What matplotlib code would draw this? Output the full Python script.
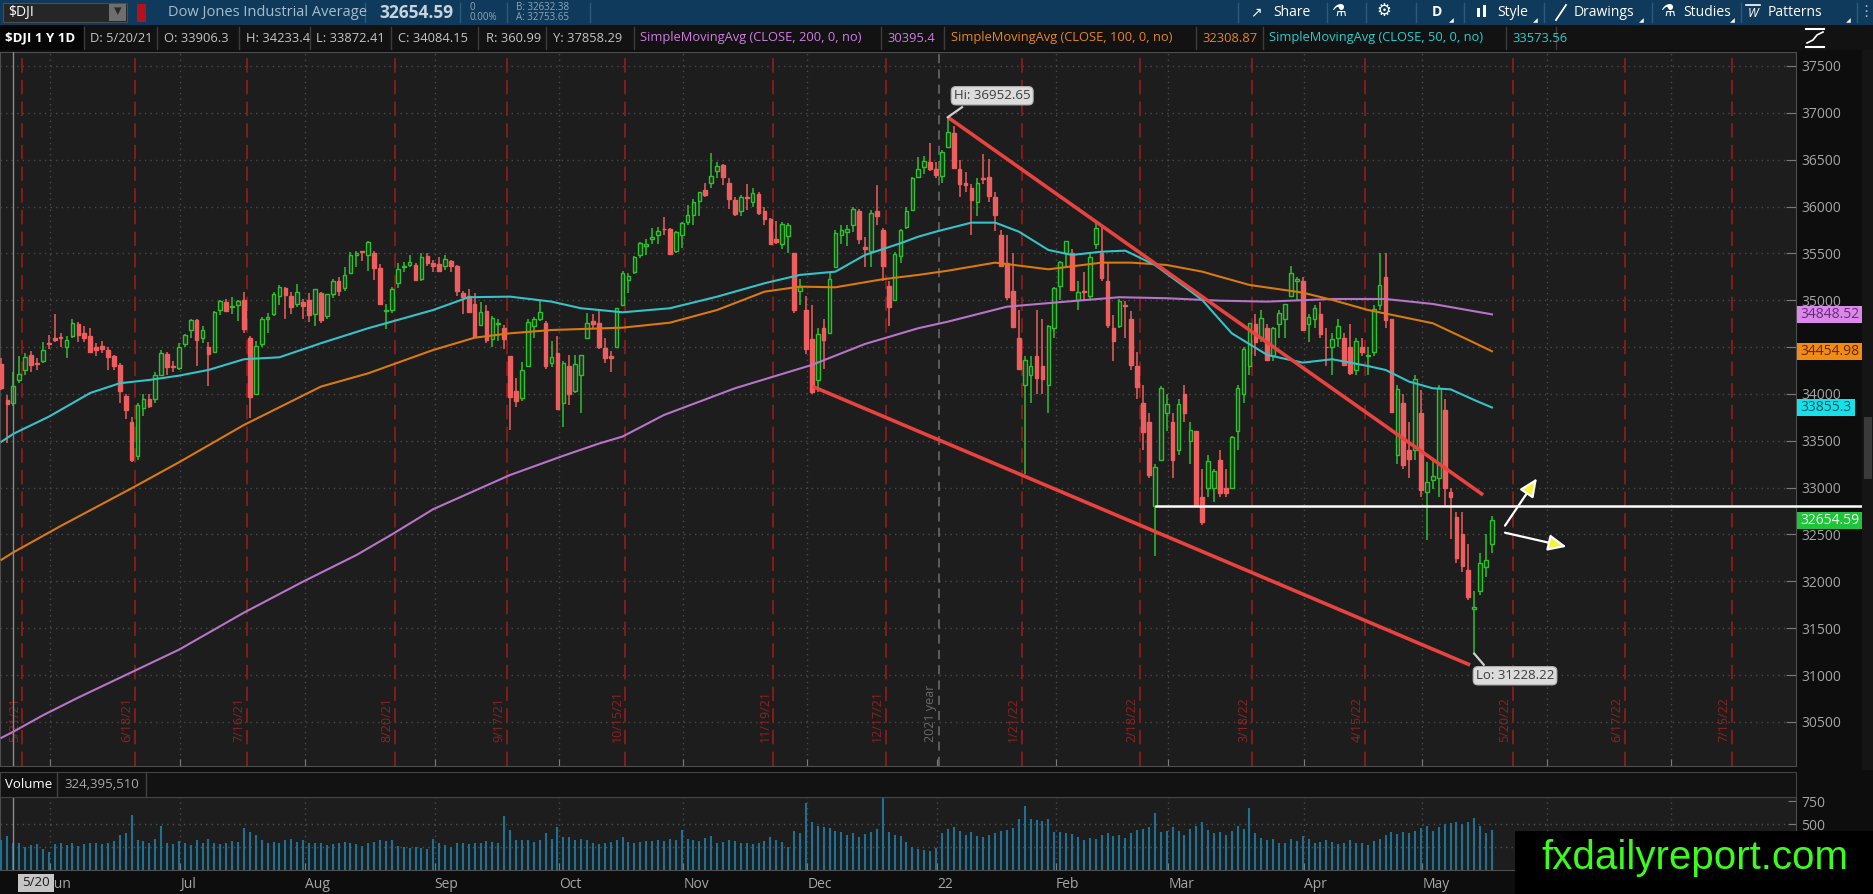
import numpy as np
import matplotlib
matplotlib.use("Agg")
import matplotlib.pyplot as plt
from matplotlib.patches import Rectangle
from matplotlib.lines import Line2D

plt.rcParams['font.family'] = ['Open Sans', 'DejaVu Sans']

W, H = 1874, 894

# daily $DJI candles, trading day index 0 = 5/18/21 ... 252 = 5/17/22
opens = [34320, 33940, 33906, 34150, 34250, 34420, 34330, 34350, 34540,
         34600, 34610, 34500, 34620, 34750, 34650, 34620, 34500, 34510, 34470, 34400, 34310, 33980, 33700, 33340, 33850, 33950, 33950, 34200, 34430, 34300, 34280,
         34530, 34680, 34790, 34600, 34500, 34450, 34900, 34980, 34930, 34950, 35000, 34600, 34000, 34530, 34800, 34850, 35040, 35130, 35050, 34960, 34980,
         35000, 34850, 35080, 34830, 35070, 35200, 35130, 35290, 35480, 35520, 35480, 35500, 35340, 34880, 34900, 35180, 35350, 35380, 35380, 35230, 35470, 35400,
         35390, 35360, 35420, 35360, 35080, 35050, 34960, 34740, 34890, 34590, 34750, 34700, 34400, 34030, 33960, 34300, 34720, 34800, 34760, 34330, 34440,
         33900, 34300, 34030, 34200, 34600, 34780, 34760, 34490, 34400, 34500, 34950, 35220, 35300, 35480, 35580, 35650, 35700, 35760, 35760, 35520, 35700,
         35830, 35910, 36060, 36180, 36250, 36380, 36440, 36250, 36070, 35950, 36100, 36050, 36130, 35950, 35870, 35650, 35600, 35680, 35500, 35100, 34900,
         34590, 34150, 34700, 34650, 35350, 35700, 35730, 35800, 35950, 35570, 35520, 35950, 35750, 35150, 35000, 35470, 35780, 35960, 36320, 36420, 36480, 36400,
         36330, 36630, 36780, 36400, 36250, 36200, 36050, 36300, 36310, 36100, 35700, 35400, 35100, 34600, 34100, 34200, 34400, 34300, 34100, 34700,
         35150, 35500, 35500, 35000, 35100, 35050, 35600, 35500, 35200, 34700, 34720, 34950, 34800, 34300, 33900, 33700, 32800, 33300, 33800,
         33700, 33400, 34000, 33500, 33600, 32900, 33000, 33000, 33300, 33000, 33000, 33600, 34000, 34300, 34750, 34600, 34700, 34400, 34750, 34800, 35050, 35200, 35200,
         34750, 34800, 34850, 34500, 34500, 34600, 34600, 34500, 34250, 34500, 34400, 34450, 34950, 35250, 34800, 33350, 33900, 33400, 33400, 33800,
         32950, 33080, 33100, 33830, 32950, 32690, 32510, 32120, 31700, 31900, 32150, 32400]
highs = [34380, 33990, 34233, 34400, 34440, 34460, 34380, 34550, 34630,
         34850, 34650, 34620, 34800, 34770, 34720, 34700, 34540, 34560, 34500, 34420, 34330, 34000, 33750, 33900, 34000, 34000, 34230, 34470, 34450, 34350, 34540,
         34640, 34800, 34800, 34720, 34550, 34880, 35000, 35010, 35030, 35000, 35090, 34620, 34570, 34820, 34860, 35090, 35160, 35140, 35090, 35170, 35010,
         35080, 35120, 35090, 35070, 35230, 35250, 35350, 35510, 35520, 35530, 35630, 35520, 35390, 34960, 35140, 35400, 35410, 35480, 35400, 35500, 35500, 35430,
         35460, 35480, 35430, 35380, 35100, 35120, 35080, 34980, 34950, 34830, 34800, 34740, 34400, 34170, 34340, 34800, 34820, 35000, 34780, 34570, 34620,
         34350, 34420, 34420, 34420, 34860, 34850, 34880, 34600, 34460, 34920, 35310, 35290, 35470, 35620, 35650, 35770, 35780, 35890, 35770, 35740, 35830,
         36020, 36080, 36160, 36250, 36570, 36480, 36450, 36300, 36100, 36120, 36240, 36200, 36150, 35990, 35880, 35850, 35830, 35820, 35500, 35230, 35050,
         34950, 34700, 34800, 35300, 35750, 35800, 35800, 35990, 35970, 35670, 35960, 36230, 35770, 35200, 35510, 35760, 35990, 36310, 36530, 36540, 36680, 36480,
         36600, 36953, 36860, 36500, 36370, 36240, 36300, 36560, 36510, 36150, 35750, 35700, 35500, 34900, 34400, 34400, 34900, 34800, 34740, 35140,
         35420, 35630, 35550, 35200, 35300, 35500, 35820, 35800, 35400, 34840, 35010, 34990, 34880, 34450, 34100, 33800, 33250, 34080, 34000,
         33800, 33950, 34100, 33700, 33600, 33200, 33350, 33200, 33400, 33200, 33550, 34100, 34500, 34760, 34850, 34900, 34750, 34710, 34900, 34960, 35370, 35250, 35250,
         34850, 34950, 34980, 34700, 34650, 34800, 34650, 34750, 34600, 34600, 34500, 34950, 35500, 35500, 34800, 34100, 34000, 33700, 34200, 34040,
         33270, 33290, 34100, 33950, 33000, 32740, 32740, 32400, 31900, 32300, 32500, 32700]
lows = [34040, 33473, 33872, 34120, 34200, 34230, 34250, 34330, 34480,
        34550, 34500, 34380, 34600, 34550, 34550, 34440, 34400, 34440, 34260, 34250, 33900, 33730, 33270, 33300, 33760, 33850, 33900, 34200, 34200, 34230, 34260,
        34500, 34600, 34300, 34540, 34080, 34450, 34840, 34870, 34850, 34780, 34650, 33740, 33990, 34500, 34650, 34830, 34950, 34800, 34850, 34930, 34800,
        34770, 34730, 34760, 34800, 35020, 35050, 35100, 35280, 35350, 35420, 35310, 35220, 34950, 34690, 34860, 35130, 35300, 35350, 35200, 35200, 35370, 35300,
        35300, 35320, 35300, 35050, 34850, 34870, 34600, 34720, 34540, 34500, 34560, 34480, 33610, 33860, 33920, 34300, 34600, 34780, 34270, 34290, 33840,
        33650, 33880, 34010, 33800, 34600, 34700, 34480, 34330, 34230, 34500, 34950, 35080, 35280, 35450, 35480, 35600, 35600, 35700, 35480, 35500, 35560,
        35800, 35800, 35900, 36100, 36200, 36300, 36230, 35970, 35900, 35900, 35960, 36000, 35910, 35800, 35600, 35600, 35550, 35500, 34860, 34950, 34430,
        34000, 34020, 34270, 34650, 35350, 35600, 35580, 35730, 35600, 35350, 35350, 35800, 35200, 34720, 34990, 35400, 35760, 35950, 36300, 36350, 36380, 36300,
        36250, 36630, 36400, 36100, 36160, 35700, 35900, 36240, 36050, 35740, 35360, 35000, 34700, 34260, 33150, 33900, 34000, 34000, 33800, 34600,
        35000, 35350, 35100, 34900, 35000, 35000, 35550, 35200, 34700, 34350, 34700, 34600, 34250, 33950, 33400, 33100, 32270, 33300, 33600,
        33100, 33350, 33700, 33250, 32800, 32600, 32900, 32850, 32900, 32900, 33000, 33400, 33900, 34200, 34400, 34550, 34350, 34350, 34600, 34600, 35050, 35000, 34670,
        34550, 34700, 34600, 34300, 34200, 34500, 34300, 34200, 34200, 34400, 34200, 34400, 34900, 34700, 33800, 33250, 33200, 33100, 33300, 32900,
        32440, 32990, 32900, 32800, 32450, 32200, 32100, 31800, 31228, 31850, 32050, 32300]
closes = [34061, 33896, 34084, 34208, 34394, 34312, 34323, 34465, 34529,
          34575, 34600, 34577, 34756, 34630, 34600, 34447, 34466, 34480, 34394, 34299, 34034, 33823, 33290, 33877, 33946, 33874, 34197, 34434, 34283, 34292, 34503,
          34634, 34786, 34577, 34682, 34422, 34870, 34996, 34889, 34933, 34987, 34688, 33962, 34512, 34798, 34823, 35062, 35144, 35059, 34931, 35085, 34935,
          34838, 35116, 34793, 35064, 35209, 35102, 35265, 35485, 35500, 35515, 35625, 35343, 34961, 34894, 35120, 35336, 35366, 35406, 35213, 35456, 35400, 35361,
          35313, 35444, 35369, 35100, 35031, 34879, 34608, 34870, 34578, 34814, 34751, 34585, 33970, 33920, 34258, 34765, 34798, 34869, 34300, 34391, 33844,
          34326, 34003, 34315, 34417, 34755, 34746, 34496, 34378, 34378, 34913, 35295, 35259, 35457, 35609, 35603, 35677, 35741, 35757, 35491, 35730, 35820,
          35914, 36053, 36158, 36124, 36328, 36432, 36320, 36080, 35921, 36100, 36087, 36142, 35931, 35871, 35602, 35619, 35814, 35804, 34899, 35136, 34484,
          34022, 34640, 34580, 35227, 35719, 35754, 35755, 35971, 35651, 35544, 35927, 35898, 35365, 34932, 35493, 35754, 35951, 36302, 36398, 36489, 36398, 36338,
          36585, 36800, 36407, 36236, 36232, 36069, 36252, 36290, 36114, 35912, 35368, 35029, 34715, 34265, 34365, 34298, 34168, 34161, 34725, 35132,
          35405, 35629, 35111, 35090, 35091, 35463, 35768, 35242, 34738, 34566, 34989, 34934, 34312, 34079, 33597, 33132, 33224, 34059, 33893,
          33295, 33891, 33795, 33615, 32817, 32633, 33286, 33174, 32944, 32945, 33544, 34063, 34481, 34755, 34553, 34807, 34359, 34708, 34861, 34956, 35294, 35229, 34678,
          34818, 34922, 34641, 34497, 34584, 34721, 34308, 34220, 34565, 34451, 34412, 34911, 35161, 34793, 33811, 34049, 33240, 33302, 34161, 32977,
          33062, 33129, 34061, 32998, 32899, 32246, 32161, 31834, 31730, 32197, 32223, 32655]
# volume, millions
volumes = [330, 370, 290, 300, 250, 270, 280, 230, 200,
           280, 300, 270, 290, 260, 280, 300, 290, 280, 300, 320, 380, 400, 600, 330, 320, 300, 340, 480, 300, 280, 320,
           290, 270, 330, 300, 340, 290, 280, 300, 320, 310, 460, 420, 380, 330, 300, 310, 300, 330, 340, 310, 330,
           300, 290, 300, 270, 280, 290, 310, 300, 280, 260, 290, 310, 330, 320, 330, 260, 250, 240, 250, 240, 230, 340,
           290, 270, 250, 290, 300, 280, 290, 300, 320, 310, 300, 590, 440, 330, 330, 330, 310, 330, 400, 340, 470,
           360, 360, 330, 340, 330, 290, 280, 300, 310, 330, 360, 310, 300, 310, 320, 320, 330, 320, 340, 330, 440,
           340, 330, 320, 350, 370, 300, 310, 330, 320, 300, 290, 280, 300, 320, 360, 330, 310, 250, 430, 400, 730,
           520, 480, 470, 460, 430, 410, 380, 400, 360, 390, 420, 450, 800, 420, 380, 370, 310, 250, 230, 220, 210, 240,
           400, 450, 470, 430, 380, 420, 370, 360, 380, 400, 430, 440, 460, 560, 700, 560, 550, 540, 560, 420,
           410, 400, 390, 360, 330, 350, 340, 380, 400, 370, 380, 350, 400, 440, 450, 470, 625, 420, 430,
           470, 430, 380, 450, 480, 520, 440, 400, 420, 380, 430, 480, 450, 675, 400, 350, 330, 340, 300, 300, 340, 320, 370,
           340, 300, 310, 330, 310, 280, 290, 330, 290, 300, 270, 320, 340, 380, 420, 390, 420, 400, 430, 460,
           480, 430, 470, 500, 510, 520, 500, 530, 573, 480, 400, 440]

# moving averages (bar index, value)
sma200_idx = [0, 2, 7, 13, 22, 30, 41, 51, 60, 66, 73, 86, 95, 101, 105, 112, 124, 137, 146, 155, 160,
              170, 180, 189, 197, 206, 214, 225, 234, 242, 252]
sma200_val = [30330, 30395, 30570, 30760, 31030, 31270, 31666, 31997, 32280, 32500, 32770, 33135, 33340, 33470,
              33545, 33775, 34060, 34309, 34533, 34701, 34771, 34931, 34985, 35032, 35021, 34995, 34985, 35013,
              35013, 34960, 34849]
sma100_idx = [0, 2, 10, 22, 30, 41, 54, 62, 73, 80, 86, 93, 105, 113, 121, 129, 135, 141, 149, 155, 160, 168,
              177, 186, 191, 197, 203, 206, 211, 220, 225, 231, 236, 242, 248, 252]
sma100_val = [32230, 32309, 32590, 32993, 33270, 33669, 34078, 34220, 34469, 34600, 34647, 34682, 34707, 34760,
              34896, 35091, 35145, 35138, 35224, 35270, 35315, 35401, 35330, 35401, 35401, 35376, 35305, 35251,
              35163, 35081, 35003, 34896, 34832, 34754, 34576, 34455]
sma50_idx = [0, 2, 8, 15, 20, 25, 30, 35, 41, 47, 54, 62, 73, 79, 86, 93, 98, 101, 105, 113, 121, 129, 135, 141,
             146, 152, 155, 158, 164, 168, 172, 177, 181, 186, 190, 195, 200, 203, 206, 208, 214, 220, 225, 231,
             234, 238, 242, 245, 249, 252]
sma50_val = [33490, 33574, 33757, 34010, 34114, 34149, 34195, 34256, 34370, 34391, 34541, 34701, 34896, 35032,
             35038, 34985, 34914, 34896, 34871, 34914, 35038, 35181, 35270, 35305, 35483, 35608, 35678, 35732,
             35828, 35828, 35732, 35536, 35483, 35518, 35529, 35376, 35145, 35003, 34789, 34647, 34416, 34334,
             34370, 34298, 34256, 34131, 34060, 34049, 33935, 33855]

expiry_idx = [3, 22, 41, 66, 85, 105, 130, 149, 172, 192, 211, 230, 255, 274, 292]
expiry_labels = ['5/21/21', '6/18/21', '7/16/21', '8/20/21', '9/17/21', '10/15/21', '11/19/21', '12/17/21',
                 '1/21/22', '2/18/22', '3/18/22', '4/15/22', '5/20/22', '6/17/22', '7/15/22']
month_idx = [9, 31, 52, 74, 95, 116, 137, 159, 179, 198, 221, 241, 262, 283]
month_labels = ['Jun', 'Jul', 'Aug', 'Sep', 'Oct', 'Nov', 'Dec', '22', 'Feb', 'Mar', 'Apr', 'May', '', '']
price_ticks = list(range(30500, 37501, 500))
hidden_price_labels = (34500,)  # sits fully under the SMA tag on the scale

fig = plt.figure(figsize=(W / 100, H / 100), dpi=100, facecolor='#0d0d0d')


def fx(x):
    return x / W


def fy(y):
    return 1 - y / H


def box(x, y, w, h, fc, ec='none', lw=0, z=1):
    fig.add_artist(Rectangle((fx(x), fy(y + h)), w / W, h / H, transform=fig.transFigure,
                             fc=fc, ec=ec, lw=lw, zorder=z))


def vline(x, y0, y1, color, lw=1, z=2):
    fig.add_artist(Line2D([fx(x), fx(x)], [fy(y0), fy(y1)], transform=fig.transFigure,
                          color=color, lw=lw, zorder=z))


def txt(x, y, s, z=3, **kw):
    kw.setdefault('va', 'center')
    fig.text(fx(x), fy(y), s, zorder=z, **kw)


XL = (-0.25, 303.4)
grid_x = [m - 0.75 for m in month_idx]
dot = (0, (1, 3))

# ---------------- main price panel ----------------
ax = fig.add_axes([0, fy(766), 1796 / W, (766 - 52) / H])
ax.set_facecolor('#1d1d1d')
ax.set_xlim(*XL)
ax.set_ylim(30029, 37649)
for s in ax.spines.values():
    s.set_color('#4e4e4e')

for p in price_ticks:
    ax.axhline(p, color='#4a4a4a', lw=1, ls=dot, zorder=1)
for g, m in zip(grid_x, month_idx):
    if m != 159:
        ax.axvline(g, color='#4a4a4a', lw=1, ls=dot, zorder=1)

# option expiration lines
for e, lab in zip(expiry_idx, expiry_labels):
    ax.axvline(e + 0.5, color='#8c1c1c', lw=1.3, ls=(0, (8, 4)), zorder=2)
    ax.text(e - 0.85, 30286, lab, rotation=90, color='#8e2222', fontsize=9, ha='center', va='bottom', zorder=2)
ax.axvline(158.5, color='#6e6e6e', lw=1.1, ls=(0, (6, 4)), zorder=2)
ax.text(157.0, 30286, '2021 year', rotation=90, color='#6a6a6a', fontsize=9, ha='center', va='bottom', zorder=2)

# candles
idx = np.arange(len(closes))
o = np.array(opens)
hi = np.array(highs)
lo = np.array(lows)
c = np.array(closes)
up = c >= o
red, green = '#ee5e5e', '#2ec02e'
edge = np.where(up, green, red)
face = np.where(up, '#1e3a1e', red)
ax.vlines(idx, lo, hi, colors=edge, lw=1.1, zorder=3)
ax.bar(idx, np.maximum(np.abs(c - o), 8), bottom=np.minimum(o, c), width=0.62,
       color=face, edgecolor=edge, linewidth=1.0, zorder=4)

# moving averages
ax.plot(sma200_idx, sma200_val, color='#b774c8', lw=1.5, zorder=5)
ax.plot(sma100_idx, sma100_val, color='#d9790f', lw=1.5, zorder=5)
ax.plot(sma50_idx, sma50_val, color='#35c2c8', lw=1.5, zorder=5)

# crosshair on 5/20/21
ax.axvline(2, color='#8a8a8a', lw=1, zorder=6)

# drawings
ax.plot([160, 250.5], [36953, 32922], color='#e8433f', lw=2.6, zorder=6, solid_capstyle='butt')
ax.plot([137.2, 248.3], [34078, 31107], color='#e8433f', lw=2.6, zorder=6, solid_capstyle='butt')
ax.plot([195.2, 330], [32804, 32804], color='white', lw=1.8, zorder=9, clip_on=False)
arrow = dict(arrowstyle='-|>,head_length=1.0,head_width=0.45', mutation_scale=11,
             fc='#f4f436', ec='white', lw=1.6, shrinkA=0, shrinkB=0)
ax.annotate('', xy=(259.6, 33099), xytext=(254.2, 32594), arrowprops=arrow, zorder=9)
ax.annotate('', xy=(264.6, 32369), xytext=(254.2, 32519), arrowprops=arrow, zorder=9)

# hi / lo bubbles
bub = dict(boxstyle='round,pad=0.2,rounding_size=0.35', fc='#dcdcdc', ec='#b4b4b4', lw=0.8)
ax.plot([160, 162.4], [36953, 37060], color='#cfcfcf', lw=1.6, zorder=7)
ax.text(167.5, 37182, 'Hi: 36952.65', ha='center', va='center', fontsize=9.5, color='#3c3c3c', bbox=bub, zorder=8)
ax.plot([249, 250.6], [31228, 31110], color='#cfcfcf', lw=1.6, zorder=7)
ax.text(255.9, 30992, 'Lo: 31228.22', ha='center', va='center', fontsize=9.5, color='#3c3c3c', bbox=bub, zorder=8)

ax.yaxis.tick_right()
ax.set_yticks(price_ticks)
ax.set_yticklabels(['' if p in hidden_price_labels else str(p) for p in price_ticks])
ax.tick_params(axis='y', direction='in', length=7, width=0.8, color='#7a7a7a',
               labelcolor='#a6a6a6', labelsize=10, pad=4)
ax.set_xticks(grid_x)
ax.tick_params(axis='x', direction='in', length=5, width=0.8, color='#7a7a7a', labelbottom=False)

# last value boxes on the price scale
for val, lab, fc, tc, w in [(34848.52, '34848.52', '#da88ea', '#6c2a7c', 65),
                            (34454.98, '34454.98', '#f38a12', '#5e2a00', 65),
                            (33855.3, '33855.3', '#14e2ea', '#0b5564', 58),
                            (32654.59, '32654.59', '#1fc43a', '#eaffea', 65)]:
    yp = 66 + (37500 - val) * 0.0937
    box(1797, yp - 8.5, w, 17, fc, z=5)
    txt(1800, yp, lab, z=6, color=tc, fontsize=10, ha='left')

# ---------------- volume panel ----------------
axv = fig.add_axes([0, fy(870), 1796 / W, 73 / H])
axv.set_facecolor('#1d1d1d')
axv.set_xlim(*XL)
axv.set_ylim(0, 798)
for s in axv.spines.values():
    s.set_color('#4e4e4e')
for v in (250, 500):
    axv.axhline(v, color='#4f4f4f', lw=1, ls=dot, zorder=1)
for g in grid_x:
    axv.axvline(g, color='#4a4a4a', lw=1, ls=dot, zorder=1)
axv.vlines(idx, 0, volumes, colors='#1d7192', lw=1.5, zorder=3)
axv.axvline(2, color='#8a8a8a', lw=1, zorder=4)
axv.yaxis.tick_right()
axv.set_yticks([250, 500, 750])
axv.set_yticklabels(['', '500', '750'])
axv.tick_params(axis='y', direction='in', length=6, width=0.8, color='#7a7a7a',
                labelcolor='#a6a6a6', labelsize=10, pad=4)
axv.set_xticks(grid_x)
axv.set_xticklabels(month_labels, ha='left')
axv.tick_params(axis='x', direction='in', length=5, width=0.8, color='#7a7a7a',
                labelcolor='#a6a6a6', labelsize=10, pad=5)

# volume header strip
box(0, 772, 1796, 25, '#121212', ec='#444444', lw=0.8)
txt(5, 785, 'Volume', color='white', fontsize=9.5)
vline(57, 772, 797, '#444444')
txt(64, 785, '324,395,510', color='#a8a8a8', fontsize=9.5)
vline(146, 772, 797, '#444444')

# crosshair date tag
box(18, 874, 36, 18, '#c6c6c6', z=6)
txt(36, 883, '5/20', z=7, color='#1c1c1c', fontsize=9.5, ha='center')

# ---------------- toolbars ----------------
box(0, 0, W, 25, '#0f3a5b')
box(0, 25, W, 25, '#121212')
box(0, 25, 84, 25, '#060606')
box(3, 3, 124, 19, '#262626', ec='#4c4c4c', lw=0.8, z=2)
txt(8, 12.5, '$DJI', color='white', fontsize=10)
box(109, 4, 17, 17, '#6e6e6e', z=3)
txt(117.5, 12, '▾', z=4, color='#2a2a2a', fontsize=11, ha='center')
box(137, 4, 9, 18, '#b3121c', z=3)
txt(168, 12.5, 'Dow Jones Industrial Average', color='#a7bccc', fontsize=10.5)
txt(379, 12.5, '32654.59', color='#c8d4dd', fontsize=12.5, fontweight='bold')
txt(470, 7.5, '0', color='#8ea6b8', fontsize=7)
txt(470, 18, '0.00%', color='#8ea6b8', fontsize=7)
txt(516, 7.5, 'B: 32632.38', color='#8ea6b8', fontsize=7)
txt(516, 18, 'A: 32753.65', color='#8ea6b8', fontsize=7)
for sx in (365, 460, 507, 590, 1238, 1327, 1366, 1416, 1464, 1544, 1652, 1741, 1857):
    vline(sx, 3, 22, '#2c5a7e')

tool = dict(color='white', fontsize=10)
txt(1256, 12.5, '↗', ha='center', **tool)
txt(1273, 12.5, 'Share', **tool)
txt(1339, 12.5, '⚗', ha='center', fontsize=12, color='white')
txt(1384, 12.5, '⚙', ha='center', fontsize=12, color='white')
txt(1437, 12.5, 'D', ha='center', fontweight='bold', **tool)
box(1477, 8, 3, 9, 'white', z=3)
box(1483, 5, 3, 12, 'white', z=3)
txt(1497, 12.5, 'Style', **tool)
fig.add_artist(Line2D([fx(1556), fx(1566)], [fy(20), fy(5)], transform=fig.transFigure, color='white', lw=1.3, zorder=3))
txt(1574, 12.5, 'Drawings', **tool)
txt(1668, 12.5, '⚗', ha='center', fontsize=12, color='white')
txt(1683, 12.5, 'Studies', **tool)
txt(1753, 13.5, 'W', ha='center', fontsize=9, color='white', style='italic')
fig.add_artist(Line2D([fx(1746), fx(1760)], [fy(5), fy(5)], transform=fig.transFigure, color='white', lw=1.2, zorder=3))
txt(1768, 12.5, 'Patterns', **tool)
for tx in (1451, 1535, 1641, 1732, 1848):
    txt(tx, 21, '◢', fontsize=4.5, color='white', ha='center')
txt(1866, 12.5, '⋮', ha='center', fontsize=11, color='#9fb3c4')

row_y = 38
txt(5, row_y, '$DJI 1 Y 1D', color='white', fontsize=9.5, fontweight='bold')
grey = '#c4c4c4'
for x, s in [(90, 'D: 5/20/21'), (164, 'O: 33906.3'), (246, 'H: 34233.4'), (316.5, 'L: 33872.41'),
             (398, 'C: 34084.15'), (485.6, 'R: 360.99'), (552.8, 'Y: 37858.29')]:
    txt(x, row_y, s, color=grey, fontsize=9.3)
txt(640, row_y, 'SimpleMovingAvg (CLOSE, 200, 0, no)', color='#d07ce2', fontsize=9.3)
txt(887, row_y, '30395.4', color='#d07ce2', fontsize=9.3)
txt(951, row_y, 'SimpleMovingAvg (CLOSE, 100, 0, no)', color='#e8861a', fontsize=9.3)
txt(1202, row_y, '32308.87', color='#e8861a', fontsize=9.3)
txt(1269, row_y, 'SimpleMovingAvg (CLOSE, 50, 0, no)', color='#22d0d2', fontsize=9.3)
txt(1512, row_y, '33573.56', color='#22d0d2', fontsize=9.3)
for sx in (84, 157, 239, 310.5, 391, 478, 545.6, 633.7, 881, 944, 1196, 1263.4, 1505.8, 1556.4):
    vline(sx, 27, 49, '#3c3c3c')
fig.add_artist(Line2D([fx(1806), fx(1824)], [fy(29), fy(29)], transform=fig.transFigure, color='white', lw=1.5, zorder=3))
fig.add_artist(Line2D([fx(1806), fx(1824)], [fy(47), fy(47)], transform=fig.transFigure, color='white', lw=1.5, zorder=3))
fig.add_artist(Line2D([fx(1807), fx(1813), fx(1817), fx(1823)], [fy(43), fy(40), fy(35), fy(32)],
                      transform=fig.transFigure, color='white', lw=1.2, zorder=3))

# scrollbar strip
box(1862, 50, 12, 720, '#151515')
box(1864, 417, 8, 62, '#3a3a3a', z=2)

# watermark
box(1515, 831, 359, 63, 'black', z=10)
txt(1695, 858, 'fxdailyreport.com', z=11, color='#3cfc1e', fontsize=29, ha='center',
    family='Liberation Sans')

fig.savefig('out.png', dpi=100, facecolor=fig.get_facecolor())
